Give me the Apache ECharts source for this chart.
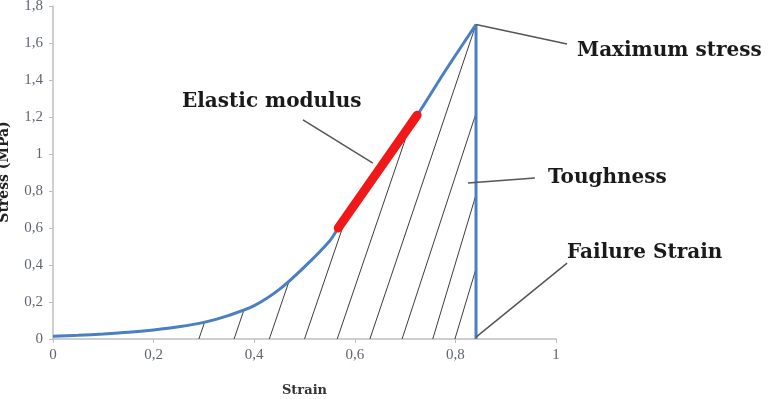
<!DOCTYPE html>
<html lang="en">

<head>
  <meta charset="UTF-8">
  <title>Stress strain</title>
  <script src="https://cdn.jsdelivr.net/npm/echarts@6/dist/echarts.min.js"></script>
  <style>
    html, body { margin: 0; padding: 0; background: #fff; }
  </style>
</head>

<body>
  <div id="chart" style="width: 768px;height: 399px;"></div>
  <script>
    const myEcharts = echarts.init(document.getElementById('chart'))

    // stress-strain curve
    const curveStrain = [0, 0.05, 0.1, 0.15, 0.2, 0.25, 0.3, 0.35, 0.4, 0.45, 0.5, 0.55, 0.567, 0.65, 0.724, 0.78, 0.841]
    const curveStress = [0.015, 0.02, 0.027, 0.036, 0.049, 0.066, 0.09, 0.128, 0.18, 0.268, 0.39, 0.53, 0.6, 0.92, 1.21, 1.45, 1.7]

    // red elastic part
    const elasticStrain = [0.567, 0.724]
    const elasticStress = [0.6, 1.21]

    // failure point / max stress
    const failureStrain = 0.841
    const maxStress = 1.7

    // toughness hatching: start on the x axis, end on the curve
    const hatchStart = [0.29, 0.36, 0.43, 0.5, 0.565, 0.63, 0.694, 0.755, 0.799]
    const hatchEndStrain = [0.3015, 0.38, 0.47, 0.583, 0.713, 0.841, 0.841, 0.841, 0.841]
    const hatchEndStress = [0.092, 0.16, 0.318, 0.66, 1.18, 1.7, 1.22, 0.78, 0.38]

    // leader lines of the annotations [x0, y0, x1, y1]
    const leaders = [
      [0.497, 1.184, 0.636, 0.951],   // Elastic modulus
      [0.841, 1.7, 1.022, 1.595],     // Maximum stress
      [0.825, 0.843, 0.958, 0.87],    // Toughness
      [0.841, 0.01, 1.022, 0.41]      // Failure Strain
    ]

    const xTicks = [0, 0.2, 0.4, 0.6, 0.8, 1]
    const yTicks = [0, 0.2, 0.4, 0.6, 0.8, 1, 1.2, 1.4, 1.6, 1.8]

    const comma = v => String(Math.round(v * 10) / 10).replace('.', ',')
    const blue = '#4a7fc1'
    const labelFont = 'DejaVu Serif'

    const hatchData = hatchStart.map((x, i) => ({
      coords: [[x, 0], [hatchEndStrain[i], hatchEndStress[i]]]
    }))
    const leaderData = leaders.map(l => ({ coords: [[l[0], l[1]], [l[2], l[3]]] }))

    const option = {
      animation: false,
      grid: { left: 53, right: 212, top: 6, bottom: 60, outerBoundsMode: 'none' },
      xAxis: {
        type: 'value',
        min: xTicks[0],
        max: xTicks[xTicks.length - 1],
        interval: 0.2,
        name: 'Strain',
        nameLocation: 'middle',
        nameGap: 45,
        nameTextStyle: { fontFamily: labelFont, fontWeight: 'bold', fontSize: 13, color: '#333' },
        axisLine: { lineStyle: { color: '#bfbfbf', width: 1.5 } },
        axisTick: { length: 4, lineStyle: { color: '#bfbfbf' } },
        axisLabel: {
          formatter: comma,
          fontFamily: 'Liberation Serif',
          fontSize: 15,
          color: '#5f6670',
          margin: 9
        },
        splitLine: { show: false }
      },
      yAxis: {
        type: 'value',
        min: yTicks[0],
        max: yTicks[yTicks.length - 1],
        interval: 0.2,
        axisLine: { show: true, lineStyle: { color: '#bfbfbf', width: 1.5 } },
        axisTick: { show: true, length: 4, lineStyle: { color: '#bfbfbf' } },
        axisLabel: {
          formatter: comma,
          fontFamily: 'Liberation Serif',
          fontSize: 15,
          color: '#5f6670',
          margin: 10
        },
        splitLine: { show: false }
      },
      graphic: [
        {
          type: 'text', x: 11, y: 172, rotation: Math.PI / 2,
          style: { text: 'Stress (MPa)', font: 'bold 14px "DejaVu Serif"', fill: '#222', align: 'center', verticalAlign: 'bottom' }
        },
        { type: 'text', x: 182, y: 102, style: { text: 'Elastic modulus', font: 'bold 20px "DejaVu Serif"', fill: '#1a1a1a', verticalAlign: 'middle' } },
        { type: 'text', x: 577, y: 51, style: { text: 'Maximum stress', font: 'bold 20px "DejaVu Serif"', fill: '#1a1a1a', verticalAlign: 'middle' } },
        { type: 'text', x: 548, y: 178, style: { text: 'Toughness', font: 'bold 20px "DejaVu Serif"', fill: '#1a1a1a', verticalAlign: 'middle' } },
        { type: 'text', x: 567, y: 253, style: { text: 'Failure Strain', font: 'bold 20px "DejaVu Serif"', fill: '#1a1a1a', verticalAlign: 'middle' } }
      ],
      series: [
        {
          // hatching
          type: 'lines',
          coordinateSystem: 'cartesian2d',
          z: 1,
          lineStyle: { color: '#3c3c3c', width: 1, opacity: 1 },
          data: hatchData
        },
        {
          type: 'line',
          z: 3,
          smooth: 0.3,
          symbol: 'none',
          lineStyle: { color: blue, width: 3 },
          data: curveStrain.map((x, i) => [x, curveStress[i]])
        },
        {
          // failure strain vertical
          type: 'line',
          z: 3,
          symbol: 'none',
          lineStyle: { color: blue, width: 3 },
          data: [[failureStrain, 0], [failureStrain, maxStress]]
        },
        {
          type: 'line',
          z: 4,
          symbol: 'none',
          lineStyle: { color: '#f01818', width: 9, cap: 'round' },
          data: elasticStrain.map((x, i) => [x, elasticStress[i]])
        },
        {
          // annotation leaders
          type: 'lines',
          coordinateSystem: 'cartesian2d',
          clip: false,
          z: 5,
          lineStyle: { color: '#555', width: 1.5, opacity: 1 },
          data: leaderData
        }
      ]
    }

    myEcharts.setOption(option)
  </script>
</body>

</html>
